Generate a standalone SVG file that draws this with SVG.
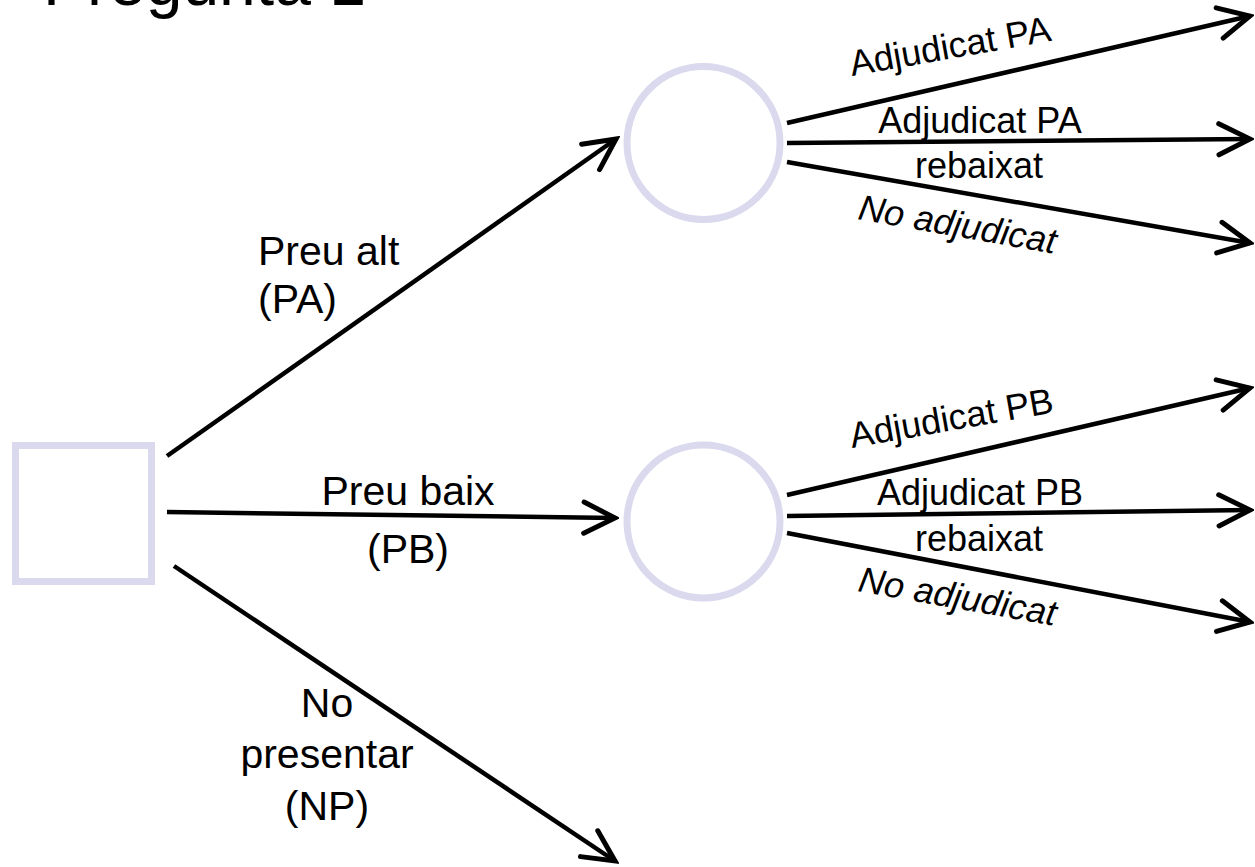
<svg xmlns="http://www.w3.org/2000/svg" width="1255" height="867" viewBox="0 0 1255 867">
<style>
.node{fill:#ffffff;stroke:#dad9ee;stroke-width:7}
.edge{stroke:#000;stroke-width:4.5;fill:none;marker-end:url(#arr)}
.lbl{font-family:"Liberation Sans",Arial,sans-serif;fill:#000}
.big{font-size:41px}
.sm{font-size:36px}
.mid{text-anchor:middle}
</style>
<defs>
<marker id="arr" markerUnits="userSpaceOnUse" markerWidth="40" markerHeight="40" viewBox="-32 -18 36 36" refX="0" refY="0" orient="auto">
<path d="M-28,-14 L0,0 L-28,14" fill="none" stroke="#000" stroke-width="4.5" stroke-linecap="round" stroke-linejoin="miter"/>
</marker>
</defs>
<rect width="1255" height="867" fill="#fff"/>
<text class="lbl" x="43" y="5" font-size="66">Pregunta 1</text>
<g id="decision">
<rect class="node" x="15.5" y="445.5" width="136" height="136"/>
</g>
<g id="chance-PA">
<circle class="node" cx="703.5" cy="143" r="76.5"/>
</g>
<g id="chance-PB">
<circle class="node" cx="703.5" cy="521.5" r="76.5"/>
</g>
<g id="connectors">
<line class="edge" x1="167" y1="456" x2="616" y2="139"/>
<line class="edge" x1="167" y1="512" x2="615" y2="518"/>
<line class="edge" x1="174" y1="566" x2="615" y2="861"/>
<line class="edge" x1="787" y1="123" x2="1250" y2="16"/>
<line class="edge" x1="787" y1="143" x2="1250" y2="139"/>
<line class="edge" x1="787" y1="162" x2="1250" y2="243"/>
<line class="edge" x1="787" y1="495" x2="1250" y2="388"/>
<line class="edge" x1="787" y1="516" x2="1250" y2="510"/>
<line class="edge" x1="787" y1="533" x2="1250" y2="622"/>
</g>
<g id="labels">
<text class="lbl big" x="258" y="265">Preu alt</text>
<text class="lbl big" x="258" y="313">(PA)</text>
<text class="lbl big mid" x="408" y="505">Preu baix</text>
<text class="lbl big mid" x="408" y="563">(PB)</text>
<text class="lbl big mid" x="327" y="717">No</text>
<text class="lbl big mid" x="327" y="768">presentar</text>
<text class="lbl big mid" x="327" y="820">(NP)</text>
<text class="lbl sm" transform="translate(852,76) rotate(-10)">Adjudicat PA</text>
<text class="lbl sm mid" x="980" y="133">Adjudicat PA</text>
<text class="lbl sm mid" x="979" y="178">rebaixat</text>
<text class="lbl sm" font-style="italic" transform="translate(857,219) rotate(10)">No adjudicat</text>
<text class="lbl sm" transform="translate(852,448) rotate(-10)">Adjudicat PB</text>
<text class="lbl sm mid" x="980" y="505">Adjudicat PB</text>
<text class="lbl sm mid" x="979" y="551">rebaixat</text>
<text class="lbl sm" font-style="italic" transform="translate(857,591) rotate(10)">No adjudicat</text>
</g>
</svg>
